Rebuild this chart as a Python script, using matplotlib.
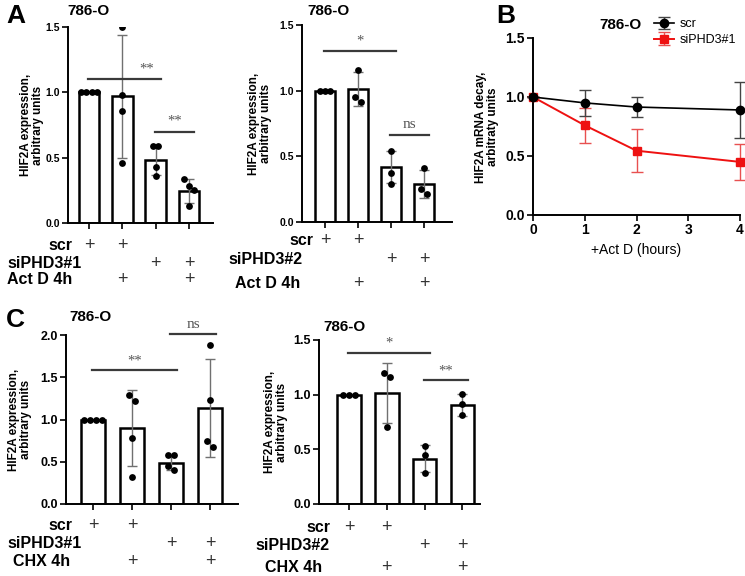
import numpy as np
import matplotlib
matplotlib.use("Agg")
import matplotlib.pyplot as plt
from matplotlib import transforms

plt.rcParams['font.family'] = ['Liberation Sans', 'DejaVu Sans']
plt.rcParams['font.weight'] = 'bold'

# ---- data ----
# A, left: siPHD3#1 + Act D
a1_means = [1.0, 0.97, 0.48, 0.245]
a1_sd = [0.0, 0.47, 0.11, 0.095]
a1_pts = [[1.0, 1.0, 1.0, 1.0], [1.5, 0.98, 0.86, 0.46],
          [0.59, 0.59, 0.43, 0.36], [0.34, 0.28, 0.25, 0.13]]
a1_sig = [("**", 0, 2, 1.10), ("**", 2, 3, 0.70)]

# A, right: siPHD3#2 + Act D
a2_means = [1.0, 1.01, 0.42, 0.29]
a2_sd = [0.0, 0.13, 0.12, 0.105]
a2_pts = [[1.0, 1.0, 1.0], [1.155, 0.95, 0.91],
          [0.54, 0.37, 0.29], [0.41, 0.25, 0.215]]
a2_sig = [("*", 0, 2, 1.30), ("ns", 2, 3, 0.66)]

# B: mRNA decay
hours = [0, 1, 2, 4]
scr_mean = [1.0, 0.95, 0.915, 0.89]
scr_sd = [0.0, 0.11, 0.085, 0.24]
si_mean = [1.0, 0.76, 0.545, 0.45]
si_sd = [0.0, 0.15, 0.18, 0.155]

# C, left: siPHD3#1 + CHX
c1_means = [1.0, 0.90, 0.49, 1.14]
c1_sd = [0.0, 0.45, 0.085, 0.58]
c1_pts = [[1.0, 1.0, 1.0, 1.0], [1.29, 1.22, 0.78, 0.32],
          [0.575, 0.575, 0.445, 0.40], [1.88, 1.23, 0.74, 0.68]]
c1_sig = [("**", 0, 2, 1.58), ("ns", 2, 3, 2.01)]

# C, right: siPHD3#2 + CHX
c2_means = [1.0, 1.015, 0.415, 0.905]
c2_sd = [0.0, 0.275, 0.125, 0.10]
c2_pts = [[1.0, 1.0, 1.0], [1.195, 1.16, 0.70],
          [0.53, 0.445, 0.287], [1.01, 0.915, 0.81]]
c2_sig = [("*", 0, 2, 1.385), ("**", 2, 3, 1.13)]

# treatment table under the bars (1 = "+")
scr_row = [1, 1, 0, 0]
si_row = [0, 0, 1, 1]
drug_row = [0, 1, 0, 1]

W, H = 745, 576
fig = plt.figure(figsize=(W / 100, H / 100), dpi=100)


def fx(x):
    return x / W


def fy(y):
    return 1 - y / H


def px_axes(l, t, r, b):
    return fig.add_axes([fx(l), fy(b), (r - l) / W, (b - t) / H])


def swarm(vals, thr, step):
    vals = np.asarray(vals, dtype=float)
    order = np.argsort(-vals, kind='stable')
    groups, cur = [], [order[0]]
    for a, b in zip(order[:-1], order[1:]):
        if vals[a] - vals[b] < thr:
            cur.append(b)
        else:
            groups.append(cur)
            cur = [b]
    groups.append(cur)
    offs = np.zeros(len(vals))
    for g in groups:
        offs[g] = (np.arange(len(g)) - (len(g) - 1) / 2) * step
    return offs


def style_axes(ax, fs):
    for s in ['top', 'right']:
        ax.spines[s].set_visible(False)
    for s in ['left', 'bottom']:
        ax.spines[s].set_linewidth(1.4)
    ax.tick_params(width=1.2, length=4, labelsize=fs, pad=2)


def bar_panel(rect, means, sd, pts, sig, ymax, yticks, xlim, tick_fs,
              rows, row_y, row_right, title, title_xy, ylab_x, sig_tx=None):
    ax = px_axes(*rect)
    x = np.arange(len(means))
    ax.bar(x, means, width=0.62, color='white', edgecolor='black',
           linewidth=1.8, zorder=2)
    ax.errorbar(x, means, yerr=sd, fmt='none', ecolor='#707070',
                elinewidth=1.0, capsize=3.5, capthick=1.0, zorder=3)
    for i, p in enumerate(pts):
        off = swarm(p, 0.045 * ymax, 0.16)
        ax.scatter(i + off, p, s=24, color='black', zorder=4, linewidths=0)
    for k, (lab, i, j, y) in enumerate(sig):
        ax.plot([i - 0.02, j + 0.15], [y, y], color='#3a3a3a', lw=1.6,
                clip_on=False, zorder=5)
        is_ns = lab == 'ns'
        tx = (i + j + 0.13) / 2
        if sig_tx is not None and sig_tx[k] is not None:
            tx = sig_tx[k]
        ax.text(tx, y + 0.02 * ymax, lab, ha='center',
                va='bottom', color='#555555', fontweight='normal',
                fontfamily='Liberation Serif', fontsize=11 if is_ns else 10.5)
    ax.set_xlim(*xlim)
    ax.set_ylim(0, ymax)
    ax.set_yticks(yticks)
    ax.set_yticklabels([f"{t:.1f}" for t in yticks])
    ax.set_xticks(x)
    ax.set_xticklabels([])
    style_axes(ax, tick_fs)
    # treatment table
    tr = transforms.blended_transform_factory(ax.transData, fig.transFigure)
    for (lab, flags), yy, xr in zip(rows, row_y, row_right):
        fig.text(fx(xr), fy(yy), lab, ha='right', va='center', fontsize=11.5)
        for i, f in enumerate(flags):
            if f:
                ax.text(i, fy(yy), '+', transform=tr, ha='center',
                        va='center', fontsize=13, fontweight='normal',
                        color='#333333', fontfamily='Liberation Sans')
    fig.text(fx(title_xy[0]), fy(title_xy[1]), title, ha='center',
             va='center', fontsize=11)
    fig.text(fx(ylab_x), fy((rect[1] + rect[3]) / 2),
             "HIF2A expression,\narbitrary units", rotation=90,
             ha='center', va='center', fontsize=8.5, linespacing=1.05)
    return ax


bar_panel((68, 27, 213, 223), a1_means, a1_sd, a1_pts, a1_sig, 1.5,
          [0.0, 0.5, 1.0, 1.5], (-0.63, 3.72), 7.5,
          [("scr", scr_row), ("siPHD3#1", si_row), ("Act D 4h", drug_row)],
          [245, 263, 280], [72, 82, 72], "786-O", (88, 11), 32,
          sig_tx=[1.72, None])

bar_panel((302, 25, 452, 222), a2_means, a2_sd, a2_pts, a2_sig, 1.5,
          [0.0, 0.5, 1.0, 1.5], (-0.7, 3.85), 7.5,
          [("scr", scr_row), ("siPHD3#2", si_row), ("Act D 4h", drug_row)],
          [240, 260, 283], [313, 303, 300], "786-O", (329, 11), 260)

bar_panel((66, 335, 238, 504), c1_means, c1_sd, c1_pts, c1_sig, 2.0,
          [0.0, 0.5, 1.0, 1.5, 2.0], (-0.69, 3.72), 9,
          [("scr", scr_row), ("siPHD3#1", si_row), ("CHX 4h", drug_row)],
          [526, 544, 561], [72, 82, 70], "786-O", (90, 317), 20)

bar_panel((319, 340, 480, 504), c2_means, c2_sd, c2_pts, c2_sig, 1.5,
          [0.0, 0.5, 1.0, 1.5], (-0.8, 3.47), 9,
          [("scr", scr_row), ("siPHD3#2", si_row), ("CHX 4h", drug_row)],
          [527, 546, 567], [330, 330, 322], "786-O", (344, 327), 276)

# ---- panel B ----
axb = px_axes(533, 38, 740, 215)
axb.errorbar(hours, scr_mean, yerr=scr_sd, color='black', marker='o', ms=6,
             lw=1.2, ecolor='#444444', elinewidth=1.0, capsize=4,
             label='scr', clip_on=False, zorder=4)
axb.errorbar(hours, si_mean, yerr=si_sd, color='#ee1111', marker='s', ms=6,
             lw=1.4, ecolor='#e85050', elinewidth=1.0, capsize=4,
             label='siPHD3#1', clip_on=False, zorder=3)
axb.set_xlim(0, 4)
axb.set_ylim(0, 1.5)
axb.set_xticks([0, 1, 2, 3, 4])
axb.set_yticks([0.0, 0.5, 1.0, 1.5])
axb.set_yticklabels(["0.0", "0.5", "1.0", "1.5"])
style_axes(axb, 10)
axb.set_xlabel("+Act D (hours)", fontsize=10, labelpad=4)
fig.text(fx(487), fy(127), "HIF2A mRNA decay,\narbitraty units", rotation=90,
         ha='center', va='center', fontsize=8.5, linespacing=1.05)
fig.text(fx(620), fy(25), "786-O", ha='center', va='center', fontsize=11)
leg = axb.legend(loc='upper left', bbox_to_anchor=(fx(648), fy(12)),
                 bbox_transform=fig.transFigure, frameon=False,
                 prop={'weight': 'normal', 'size': 9}, handlelength=1.6,
                 handletextpad=0.4, labelspacing=0.3, borderpad=0)

# panel letters
for lab, x, y in [("A", 16, 16), ("B", 506, 16), ("C", 15, 320)]:
    fig.text(fx(x), fy(y), lab, ha='center', va='center', fontsize=19)

fig.savefig("out.png", dpi=100)
